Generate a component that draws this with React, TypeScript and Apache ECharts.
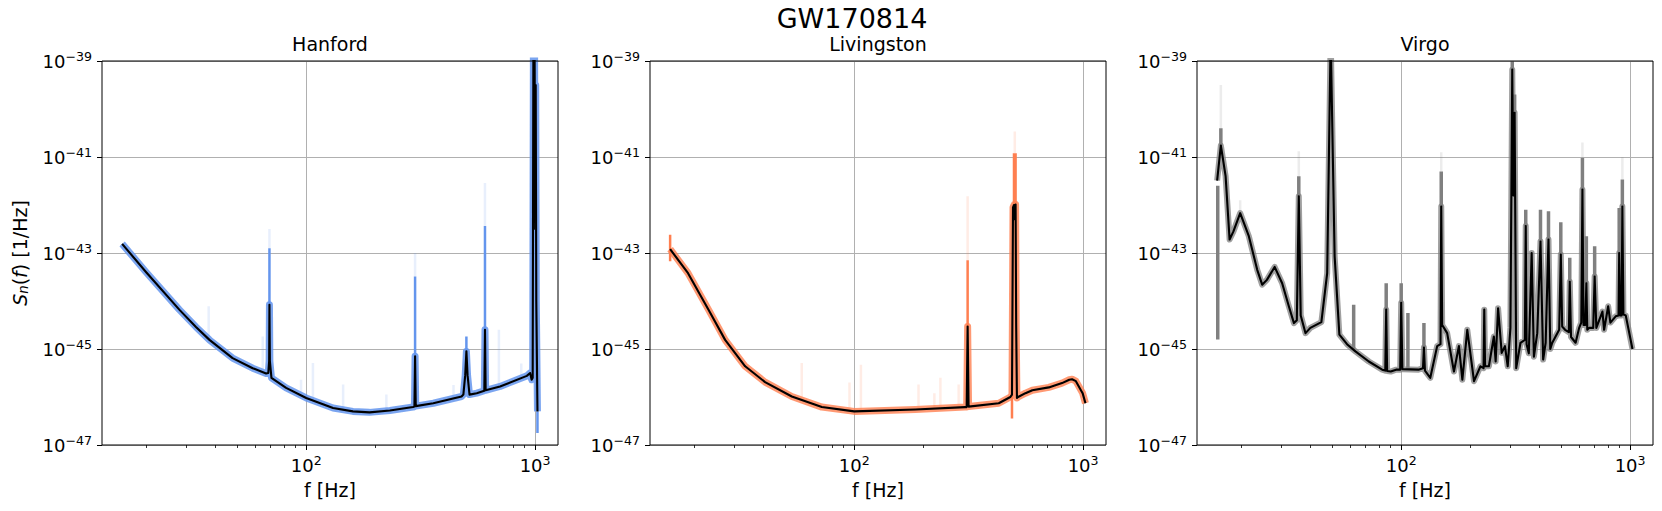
import React, { useEffect, useRef } from "react";
import * as echarts from "echarts";

const FONT = "DejaVu Sans";

const figureTitle = "GW170814";
const panelTitles = ["Hanford", "Livingston", "Virgo"];
const xTickExponents = [2, 3];
const yTickExponents = [-47, -45, -43, -41, -39];
const minorTickFreqs = [20, 30, 40, 50, 60, 70, 80, 90, 200, 300, 400, 500, 600, 700, 800, 900];

// ---------- Hanford (frequency in Hz, log10 S_n) ----------
const hanfordFreq = [15.7, 20, 27.9, 33, 37.8, 47.7, 58.4, 66.8, 68.3, 68.9, 69.1, 69.4, 70.5, 81.7, 100, 131, 160, 189, 232, 293, 297, 299, 301, 359, 477, 486, 495, 501, 507, 517, 556, 600, 604, 608, 703, 920, 951, 966, 976, 983, 988, 994, 1000, 1006, 1012, 1024];
const hanfordLogPsd = [-42.81, -43.4, -44.18, -44.54, -44.81, -45.19, -45.4, -45.51, -45.5, -45.25, -44.08, -45.25, -45.6, -45.81, -46.02, -46.23, -46.3, -46.32, -46.28, -46.21, -46.2, -45.15, -46.19, -46.13, -45.99, -45.95, -45.55, -45.05, -45.55, -45.95, -45.92, -45.87, -44.6, -45.86, -45.78, -45.56, -45.5, -45.64, -45.6, -38.5, -42.5, -38.5, -41.5, -39.5, -44.0, -46.3];
// [Hz, from, to] coloured extensions of lines
const hanfordBandSpikes = [[69.1, -44.08, -42.9], [299, -45.15, -43.49], [501, -45.05, -44.74], [604, -44.6, -42.44], [1024, -46.3, -46.75]];
const hanfordFaintSpikes = [[69.1, -42.9, -42.5], [299, -43.49, -43.0], [604, -42.44, -41.54], [37.5, -44.8, -44.11], [64.6, -45.45, -44.74], [95, -45.98, -45.64], [107, -46.05, -45.29], [145, -46.25, -45.74], [224, -46.29, -45.95], [440, -46.02, -45.75], [695, -45.78, -44.6], [870, -45.6, -45.3]];

// ---------- Livingston ----------
const livingstonFreq = [15.7, 18.8, 23.1, 27.3, 33.4, 40.8, 53.4, 72.2, 100, 185, 305, 310, 313, 316, 428, 481, 489, 494, 499, 504, 507, 510, 514, 520, 560, 600, 708, 809, 870, 895, 930, 995, 1024];
const livingstonLogPsd = [-42.92, -43.42, -44.18, -44.81, -45.36, -45.69, -45.99, -46.21, -46.3, -46.26, -46.21, -46.21, -44.53, -46.2, -46.13, -46.0, -45.95, -42.05, -42.0, -42.3, -41.99, -44.5, -46.02, -46.0, -45.92, -45.86, -45.8, -45.71, -45.64, -45.63, -45.67, -45.92, -46.13];
const livingstonBandSpikes = [[313, -44.53, -43.15], [499, -42.0, -40.92], [507, -41.99, -40.92], [15.7, -42.62, -43.17], [489, -45.95, -46.45]];
const livingstonFaintSpikes = [[313, -43.15, -41.82], [503, -40.92, -40.47], [59, -46.08, -45.29], [95.4, -46.3, -45.7], [107, -46.3, -45.33], [191, -46.26, -45.74], [224, -46.26, -45.92], [238, -46.25, -45.6], [286, -46.22, -45.74]];

// ---------- Virgo ----------
const virgoFreq = [15.7, 16.3, 17.1, 17.8, 18.5, 19.8, 21.6, 23.5, 24.7, 25.9, 28.0, 30.2, 32.3, 34.0, 35.0, 35.7, 36.4, 38.2, 40.1, 44.8, 47.5, 49.2, 51.2, 53.7, 58.0, 63.1, 72.2, 82.6, 85.2, 86.0, 86.8, 90.0, 95.0, 99.0, 100.0, 101.2, 119, 124.5, 125.7, 127, 134, 143.6, 148.5, 149.6, 151, 153.8, 158.8, 170, 178.7, 185, 194.4, 208, 222, 229, 230.6, 232.5, 241.6, 254, 258.6, 265, 274.8, 284, 292, 300, 305.6, 309, 313, 318, 332, 347, 350, 353, 361, 371.5, 380, 393, 406, 417, 427.6, 440, 448, 457, 490, 498, 505, 520, 540, 545, 552, 578, 599, 612, 619, 626, 637, 644, 650, 662, 690, 700, 712, 757, 770, 802, 820, 865, 890, 896, 905, 918, 925, 935, 957, 1024];
const virgoLogPsd = [-41.49, -40.76, -41.4, -42.72, -42.55, -42.17, -42.65, -43.35, -43.66, -43.56, -43.29, -43.63, -44.11, -44.46, -44.4, -41.82, -44.3, -44.67, -44.56, -44.44, -43.42, -38.5, -43.07, -44.7, -44.9, -45.05, -45.26, -45.43, -45.45, -44.18, -45.46, -45.47, -45.43, -45.43, -44.04, -45.42, -45.43, -45.4, -44.97, -45.45, -45.6, -44.94, -44.9, -42.03, -44.5, -44.56, -44.67, -45.47, -44.94, -45.64, -44.6, -45.67, -45.36, -45.4, -44.18, -45.36, -45.36, -44.74, -45.26, -44.15, -45.08, -44.94, -45.36, -44.56, -39.18, -41.8, -40.08, -45.4, -44.87, -44.81, -42.44, -44.9, -45.09, -43.0, -45.16, -44.67, -42.76, -45.22, -44.87, -42.72, -45.0, -44.87, -44.6, -43.03, -44.53, -44.6, -44.65, -43.6, -44.75, -44.87, -44.56, -44.45, -41.68, -44.5, -44.5, -43.63, -44.6, -44.56, -44.56, -43.49, -44.56, -44.22, -44.6, -44.11, -44.45, -44.32, -44.3, -43.0, -44.3, -44.3, -42.03, -44.28, -44.3, -45.0];
const virgoBandSpikes = [[15.8, -41.6, -44.8], [16.3, -40.76, -40.4], [35.7, -41.82, -41.4], [62, -45.0, -44.08], [86, -44.18, -43.63], [100, -44.04, -43.63], [107, -45.43, -44.25], [125.7, -44.97, -44.46], [149.6, -42.03, -41.3], [305.6, -39.18, -39.0], [313, -40.08, -39.7], [350, -42.44, -42.1], [406, -42.76, -42.1], [440, -42.72, -42.13], [498, -43.03, -42.36], [545, -43.6, -43.1], [619, -41.68, -41.02], [644, -43.63, -42.65], [700, -43.49, -42.86], [896, -43.0, -42.06], [925, -42.03, -41.47]];
const virgoFaintSpikes = [[16.3, -40.4, -39.5], [35.7, -41.4, -40.88], [149.6, -41.3, -40.9], [619, -41.02, -40.7], [925, -41.47, -41.0], [19.8, -42.17, -41.9]];

const panels = [
  { freq: hanfordFreq, psd: hanfordLogPsd, band: hanfordBandSpikes, faint: hanfordFaintSpikes, rgb: "100,149,237", bandWidth: 7, bandAlpha: 0.85, spikeWidth: 2.5 },
  { freq: livingstonFreq, psd: livingstonLogPsd, band: livingstonBandSpikes, faint: livingstonFaintSpikes, rgb: "255,127,80", bandWidth: 7, bandAlpha: 0.8, spikeWidth: 2.5 },
  { freq: virgoFreq, psd: virgoLogPsd, band: virgoBandSpikes, faint: virgoFaintSpikes, rgb: "128,128,128", bandWidth: 6, bandAlpha: 0.75, spikeWidth: 3.5 },
];

const PANEL_LEFT = [102, 650, 1197];
const PANEL_TOP = 61;
const PANEL_W = 456;
const PANEL_H = 384;
const X_MIN = 1.108;
const X_MAX = 3.1;

function segments(list: number[][]) {
  const out: any[] = [];
  for (const [f, a, b] of list) {
    const x = Math.log10(f);
    out.push([x, a], [x, b], [x, "-"]);
  }
  return out;
}

const tickRich = {
  b: { fontFamily: FONT, fontSize: 18, color: "#000" },
  s: { fontFamily: FONT, fontSize: 12.6, color: "#000", padding: [0, 0, 9, 0] },
};

export default function App() {
  const ref = useRef<HTMLDivElement>(null);
  useEffect(() => {
    if (!ref.current) return;
    const chart = echarts.init(ref.current, undefined, { renderer: "svg" });
    const grids: any[] = [];
    const xAxes: any[] = [];
    const yAxes: any[] = [];
    const series: any[] = [];
    panels.forEach((p, i) => {
      grids.push({
        left: PANEL_LEFT[i], top: PANEL_TOP, width: PANEL_W, height: PANEL_H,
        show: true, borderColor: "#000", borderWidth: 1, backgroundColor: "transparent",
        containLabel: false, outerBoundsMode: "none", z: 10,
      });
      xAxes.push({
        type: "value", gridIndex: i, min: X_MIN, max: X_MAX, position: "bottom",
        axisLine: { show: false },
        axisTick: { show: true, customValues: xTickExponents, length: 5, lineStyle: { color: "#000", width: 1 } },
        axisLabel: { customValues: xTickExponents, formatter: (v: number) => `{b|10}{s|${Math.round(v)}}`, rich: tickRich, margin: 9 },
        splitLine: { show: true, lineStyle: { color: "#b0b0b0", width: 1 } },
        name: "f [Hz]", nameLocation: "middle", nameGap: 35,
        nameTextStyle: { fontFamily: FONT, fontSize: 19, color: "#000" },
      });
      yAxes.push({
        type: "value", gridIndex: i, min: -47, max: -39,
        axisLine: { show: false },
        axisTick: { show: true, customValues: yTickExponents, length: 5, lineStyle: { color: "#000", width: 1 } },
        axisLabel: { customValues: yTickExponents, formatter: (v: number) => `{b|10}{s|\u2212${Math.abs(Math.round(v))}}`, rich: tickRich, margin: 10 },
        splitLine: { show: true, lineStyle: { color: "#b0b0b0", width: 1 } },
        ...(i === 0
          ? {
              name: "{it|S}{sub|n}{rm|(}{it|f}{rm|) [1/Hz]}",
              nameLocation: "middle", nameRotate: 90, nameGap: 72,
              nameTextStyle: {
                rich: {
                  it: { fontFamily: FONT, fontSize: 19, fontStyle: "italic", color: "#000" },
                  rm: { fontFamily: FONT, fontSize: 19, color: "#000" },
                  sub: { fontFamily: FONT, fontSize: 13.3, fontStyle: "italic", color: "#000", padding: [8, 0, 0, 0] },
                },
              },
            }
          : {}),
      });
      const base = { type: "line", xAxisIndex: i, yAxisIndex: i, showSymbol: false, symbol: "none", silent: true, connectNulls: false, clip: true };
      series.push({ ...base, z: 1, data: segments(p.faint), lineStyle: { color: `rgba(${p.rgb},0.15)`, width: 2.5 } });
      series.push({ ...base, z: 2, data: p.freq.map((f, k) => [Math.log10(f), p.psd[k]]), lineStyle: { color: `rgba(${p.rgb},${p.bandAlpha})`, width: p.bandWidth, join: "round" } });
      series.push({ ...base, z: 3, data: segments(p.band), lineStyle: { color: `rgb(${p.rgb})`, width: p.spikeWidth } });
      series.push({ ...base, z: 4, data: p.freq.map((f, k) => [Math.log10(f), p.psd[k]]), lineStyle: { color: "#000", width: 2.1, join: "round" } });
    });
    panels.forEach((_, i) => {
      xAxes.push({
        type: "value", gridIndex: i, min: X_MIN, max: X_MAX, position: "bottom",
        axisLine: { show: false },
        axisTick: { show: true, customValues: minorTickFreqs.map((f) => Math.log10(f)), length: 3, lineStyle: { color: "#000", width: 0.8 } },
        axisLabel: { show: false }, splitLine: { show: false },
      });
    });
    const titleStyle = { fontFamily: FONT, fontSize: 19, fontWeight: "normal", color: "#000" };
    chart.setOption({
      animation: false,
      backgroundColor: "#fff",
      title: [
        { text: figureTitle, left: 852, top: 5, padding: 0, textAlign: "center", textStyle: { ...titleStyle, fontSize: 27 } },
        ...panelTitles.map((t, i) => ({ text: t, left: PANEL_LEFT[i] + PANEL_W / 2, top: 34, padding: 0, textAlign: "center", textStyle: titleStyle })),
      ],
      grid: grids,
      xAxis: xAxes,
      yAxis: yAxes,
      series,
    });
    return () => chart.dispose();
  }, []);
  return <div ref={ref} style={{ position: "fixed", left: 0, top: 0, width: "1662px", height: "511px" }} />;
}
